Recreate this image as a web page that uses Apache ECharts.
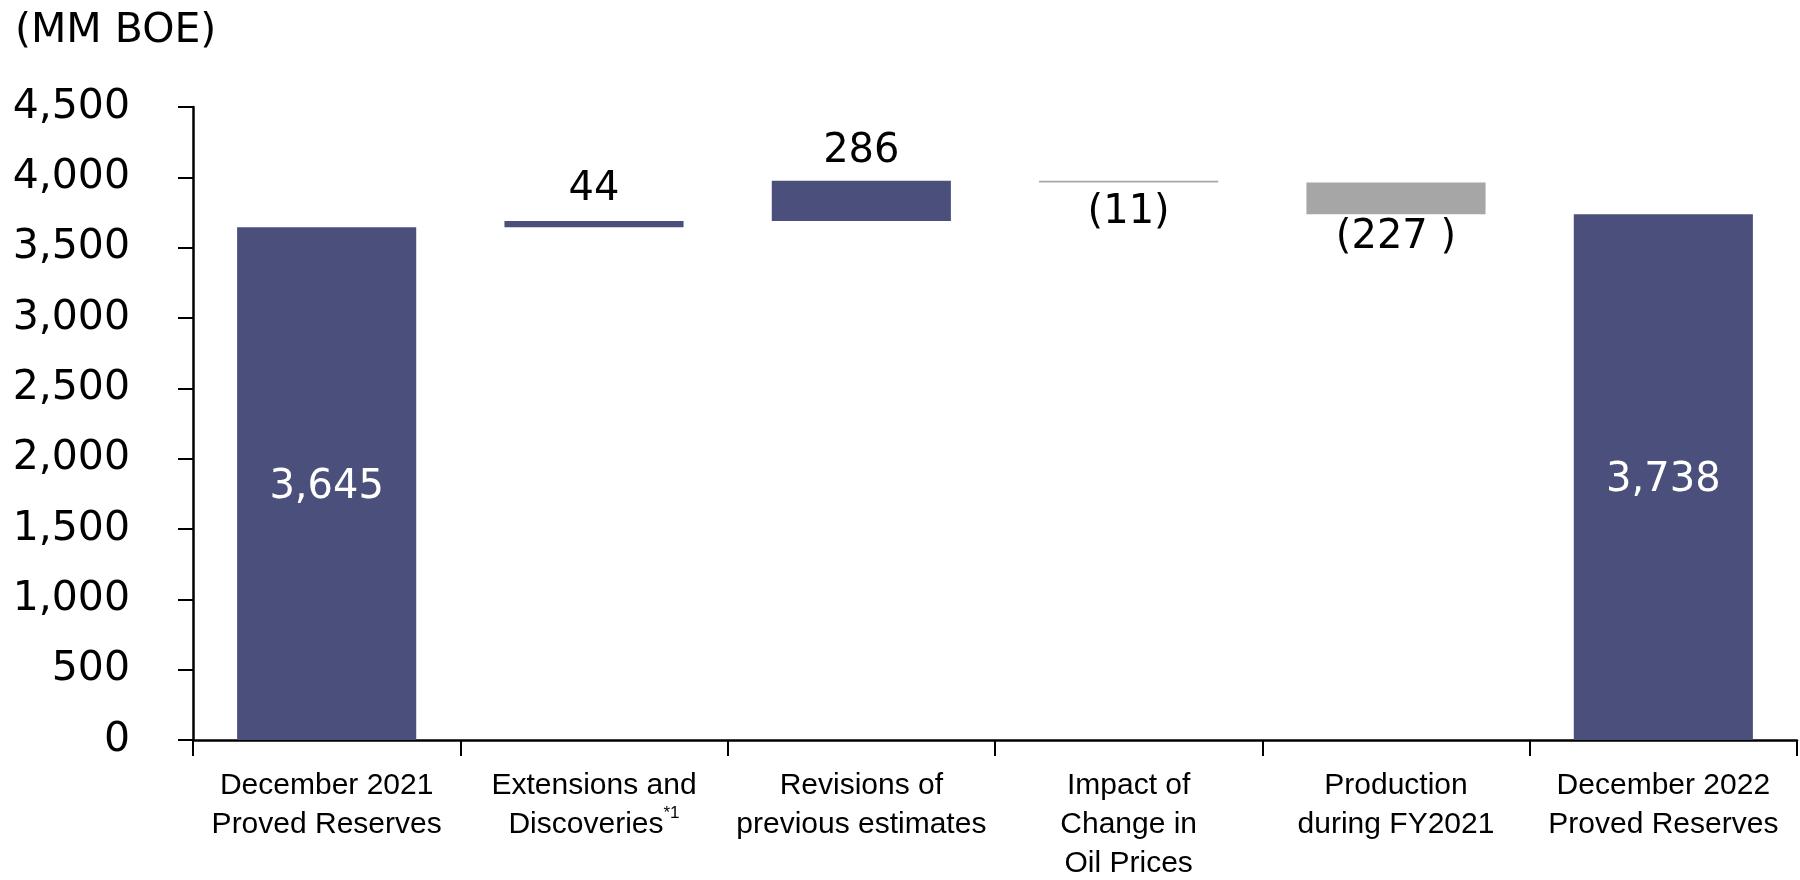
<!DOCTYPE html>
<html>
<head>
<meta charset="utf-8">
<script src="https://cdn.jsdelivr.net/npm/echarts@6/dist/echarts.min.js"></script>
<style>
html,body{margin:0;padding:0;background:#fff;}
#chart{width:1800px;height:880px;}
</style>
</head>
<body>
<div id="chart"></div>
<script>
const categories = [
  "December 2021\nProved Reserves",
  "Extensions and\n{t|Discoveries}{sup|*1}",
  "Revisions of\nprevious estimates",
  "Impact of\nChange in\nOil Prices",
  "Production\nduring FY2021",
  "December 2022\nProved Reserves"
];
const startValue = 3645;
const changes = [44, 286, -11, -227];
const endValue = 3738;
const labelTexts = ["3,645", "44", "286", "(11)", "(227 )", "3,738"];
const yTicks = { min: 0, max: 4500, interval: 500 };

const BLUE = "#4B4F7C";
const GREY = "#A6A6A6";

// build waterfall base / visible arrays from the values
const base = [0];
const visible = [startValue];
let running = startValue;
changes.forEach(c => {
  if (c >= 0) { base.push(running); visible.push(c); }
  else { base.push(running + c); visible.push(-c); }
  running += c;
});
base.push(0);
visible.push(endValue);

const colors = [BLUE, BLUE, BLUE, GREY, GREY, BLUE];
const FONT = "DejaVu Sans";
const XFONT = "Liberation Sans";

const visData = visible.map((v, i) => {
  const item = { value: v, itemStyle: { color: colors[i] } };
  let lab;
  if (i === 0 || i === 5) {
    lab = { position: 'inside', color: '#fff', offset: [0, 4] };
  } else if (i === 1) {
    lab = { position: 'top', distance: 11, color: '#000' };
  } else if (i === 2) {
    lab = { position: 'top', distance: 9, color: '#000' };
  } else if (i === 3) {
    lab = { position: 'bottom', distance: 10, color: '#000' };
  } else {
    lab = { position: 'bottom', distance: 0, offset: [0, 3], color: '#000' };
  }
  item.label = Object.assign({ show: true, formatter: labelTexts[i], fontSize: 40, fontFamily: FONT }, lab);
  return item;
});

const chart = echarts.init(document.getElementById('chart'), null, { renderer: 'canvas' });
chart.setOption({
  animation: false,
  backgroundColor: '#fff',
  title: {
    text: '(MM BOE)',
    left: 10, top: 6,
    textStyle: { fontFamily: FONT, fontSize: 41, fontWeight: 'normal', color: '#000' }
  },
  grid: { left: 193, right: 3, top: 107, bottom: 140, containLabel: false, outerBoundsMode: 'none' },
  xAxis: {
    type: 'category',
    data: categories,
    boundaryGap: true,
    axisLine: { lineStyle: { color: '#000', width: 2.5 } },
    axisTick: { show: true, length: 16, lineStyle: { color: '#000', width: 2 } },
    axisLabel: {
      interval: 0,
      margin: 26,
      color: '#000',
      fontFamily: XFONT,
      fontSize: 30,
      lineHeight: 39,
      rich: {
        t: { fontFamily: XFONT, fontSize: 30, color: '#000', lineHeight: 39 },
        sup: { fontFamily: XFONT, fontSize: 17, color: '#000', verticalAlign: 'top', lineHeight: 39, padding: [0, 0, 14, 0] }
      }
    }
  },
  yAxis: {
    type: 'value',
    min: yTicks.min, max: yTicks.max, interval: yTicks.interval,
    splitLine: { show: false },
    axisLine: { show: true, lineStyle: { color: '#000', width: 2.5 } },
    axisTick: { show: true, length: 15, lineStyle: { color: '#000', width: 2 } },
    axisLabel: {
      margin: 63,
      color: '#000',
      fontFamily: FONT,
      fontSize: 41,
      formatter: v => v.toLocaleString('en-US')
    }
  },
  series: [
    {
      type: 'bar', stack: 'w', barWidth: '67%',
      itemStyle: { color: 'transparent' },
      emphasis: { disabled: true },
      data: base
    },
    {
      type: 'bar', stack: 'w', barWidth: '67%',
      data: visData
    }
  ]
});
</script>
</body>
</html>
